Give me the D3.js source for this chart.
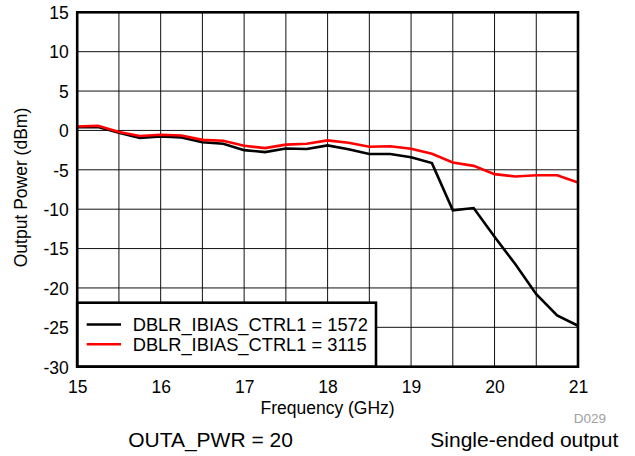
<!DOCTYPE html>
<html>
<head>
<meta charset="utf-8">
<script src="https://cdn.jsdelivr.net/npm/d3@7"></script>
<style>
  html, body { margin: 0; padding: 0; background: #fff; }
  svg { display: block; font-family: "Liberation Sans", Arial, Helvetica, sans-serif; }
</style>
</head>
<body>
<svg id="chart" width="635" height="456"></svg>
<script>
// Output power vs frequency for two doubler bias settings
const frequencies = [15, 15.25, 15.5, 15.75, 16, 16.25, 16.5, 16.75, 17, 17.25, 17.5, 17.75,
                     18, 18.25, 18.5, 18.75, 19, 19.25, 19.5, 19.75, 20, 20.25, 20.5, 20.75, 21];
const power1572 = [0.4, 0.45, -0.3, -0.95, -0.75, -0.9, -1.5, -1.7, -2.5, -2.75, -2.3, -2.35,
                   -1.9, -2.4, -3.0, -3.0, -3.4, -4.15, -10.15, -9.85, -13.5, -17.0, -20.8, -23.5, -24.8];
const power3115 = [0.5, 0.6, -0.2, -0.7, -0.55, -0.65, -1.2, -1.3, -1.95, -2.25, -1.8, -1.7,
                   -1.27, -1.57, -2.07, -2.0, -2.33, -2.97, -4.07, -4.5, -5.55, -5.85, -5.7, -5.7, -6.6];
const seriesNames = ["DBLR_IBIAS_CTRL1 = 1572", "DBLR_IBIAS_CTRL1 = 3115"];
const seriesColors = ["#000000", "#ff0000"];
const xTicks = [15, 16, 17, 18, 19, 20, 21];
const xGrid = [15.5, 16, 16.5, 17, 17.5, 18, 18.5, 19, 19.5, 20, 20.5];
const yTicks = [-30, -25, -20, -15, -10, -5, 0, 5, 10, 15];

const svg = d3.select("#chart");
const x = d3.scaleLinear().domain([15, 21]).range([77.2, 578]);
const y = d3.scaleLinear().domain([-30, 15]).range([366.7, 12.3]);
const plain = d => String(d);   // ASCII hyphen for negatives

// grid
const grid = svg.append("g").attr("stroke", "#111").attr("stroke-width", 1);
grid.selectAll("line.v").data(xGrid).join("line").attr("class", "v")
  .attr("x1", d => x(d)).attr("x2", d => x(d)).attr("y1", y(15)).attr("y2", y(-30));
grid.selectAll("line.h").data(yTicks.slice(1, -1)).join("line").attr("class", "h")
  .attr("x1", x(15)).attr("x2", x(21)).attr("y1", d => y(d)).attr("y2", d => y(d));

// axes (labels only; frame drawn separately)
const xAxis = svg.append("g").attr("transform", `translate(0,${y(-30)})`)
  .call(d3.axisBottom(x).tickValues(xTicks).tickSize(0).tickPadding(0).tickFormat(plain));
xAxis.select(".domain").remove();
xAxis.selectAll("text").attr("y", 26.5).attr("dy", null)
  .attr("font-size", 17.5).attr("fill", "#000").attr("font-family", null);

const yAxis = svg.append("g").attr("transform", `translate(${x(15)},0)`)
  .call(d3.axisLeft(y).tickValues(yTicks).tickSize(0).tickPadding(0).tickFormat(plain));
yAxis.select(".domain").remove();
yAxis.selectAll("text").attr("x", -8.5).attr("dy", "0.36em")
  .attr("font-size", 17.5).attr("fill", "#000").attr("font-family", null);

// data lines
const line = d3.line().x((d, i) => x(frequencies[i])).y(d => y(d));
const plot = svg.append("g");
[power1572, power3115].forEach((s, k) => {
  plot.append("path").datum(s).attr("d", line)
    .attr("fill", "none").attr("stroke", seriesColors[k]).attr("stroke-width", 2.6)
    .attr("stroke-linejoin", "miter");
});

// legend
const lg = svg.append("g");
lg.append("rect").attr("x", x(15)).attr("y", 302.7).attr("width", 376 - x(15)).attr("height", y(-30) - 302.7)
  .attr("fill", "#fff").attr("stroke", "#000").attr("stroke-width", 2.6);
const rowsY = [324.5, 344.3];
seriesNames.forEach((name, k) => {
  lg.append("line").attr("x1", 86.7).attr("x2", 121).attr("y1", rowsY[k]).attr("y2", rowsY[k])
    .attr("stroke", seriesColors[k]).attr("stroke-width", 2.6);
  lg.append("text").attr("x", 132.7).attr("y", rowsY[k]).attr("dy", "0.36em")
    .attr("font-size", 18.3).attr("fill", "#000").text(name);
});

// frame
svg.append("rect").attr("x", x(15)).attr("y", y(15)).attr("width", x(21) - x(15)).attr("height", y(-30) - y(15))
  .attr("fill", "none").attr("stroke", "#000").attr("stroke-width", 2.6);

// titles
svg.append("text").attr("x", (x(15) + x(21)) / 2).attr("y", 414.3).attr("text-anchor", "middle")
  .attr("font-size", 17.5).text("Frequency (GHz)");
svg.append("text").attr("transform", `translate(26.5,${(y(15) + y(-30)) / 2 - 2}) rotate(-90)`)
  .attr("text-anchor", "middle").attr("font-size", 17.5).text("Output Power (dBm)");
svg.append("text").attr("x", 590).attr("y", 423).attr("text-anchor", "middle")
  .attr("font-size", 13.5).attr("fill", "#a0a0a0").text("D029");
svg.append("text").attr("x", 210.5).attr("y", 447).attr("text-anchor", "middle")
  .attr("font-size", 21).text("OUTA_PWR = 20");
svg.append("text").attr("x", 524.3).attr("y", 447).attr("text-anchor", "middle")
  .attr("font-size", 21).text("Single-ended output");
</script>
</body>
</html>
